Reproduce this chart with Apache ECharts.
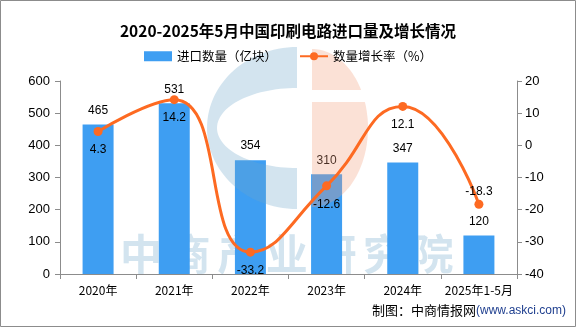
<!DOCTYPE html>
<html><head><meta charset="utf-8">
<script src="https://cdn.jsdelivr.net/npm/echarts@6/dist/echarts.min.js"></script>
<style>html,body{margin:0;padding:0;background:#fff}#c{width:576px;height:327px}</style>
</head><body><div id="c"></div>
<script>
const categories = ['2020年','2021年','2022年','2023年','2024年','2025年1-5月'];
const importVolume = [465, 531, 354, 310, 347, 120];
const growthRate = [4.3, 14.2, -33.2, -12.6, 12.1, -18.3];
const leftTicks = {min: 0, max: 600, interval: 100};
const rightTicks = {min: -40, max: 20, interval: 10};
const titleText = '2020-2025年5月中国印刷电路进口量及增长情况';
const barName = '进口数量（亿块）';
const lineName = '数量增长率（%）';
const watermark = '中商产业研究院';

const chart = echarts.init(document.getElementById('c'), null, {renderer: 'canvas'});
const axisColor = '#8c8c8c';
const cjk = 'Noto Sans CJK SC';

// decorative logo outline (background watermark, not data)
function arcPts(cx, cy, rx, ry, t0, t1, dir, n) {
  const pts = [];
  for (let k = 0; k <= n; k++) {
    const t = t0 + (t1 - t0) * k / n;
    pts.push([cx + dir * rx * Math.cos(t), cy + ry * Math.sin(t)]);
  }
  return pts;
}
const blueC = arcPts(297, 128, 90, 81, -Math.PI/2, Math.PI/2, -1, 60)
  .concat(arcPts(297, 128, 80, 40, Math.PI/2, -Math.PI/2, -1, 60));
const tTop = Math.asin(-38/79), tBot = Math.asin(-26/79);
const salTop = arcPts(312, 128, 56, 79, -Math.PI/2, tTop, 1, 30).concat([[312, 90]]);
const salBot = [[312, 102]].concat(arcPts(312, 128, 56, 79, tBot, Math.PI/2, 1, 50));

const wmChars = watermark.split('').map((ch, i) => ({
  type: 'text', z: 0, silent: true,
  x: 141 + i * 48.6, y: 254,
  style: {text: ch, font: 'bold 42px "Noto Sans CJK SC"', fill: '#d3e4ef', align: 'center', verticalAlign: 'middle'}
}));

const lineData = growthRate.map((v, i) => ({
  value: v,
  label: (i === growthRate.length - 1) ? {position: 'top', distance: 2} : {position: 'bottom', distance: 8}
}));

chart.setOption({
  animation: false,
  backgroundColor: '#fff',
  title: {
    text: titleText, left: 'center', top: 18,
    textStyle: {fontFamily: cjk, fontWeight: 'bold', fontSize: 15.5, color: '#000'}
  },
  legend: {
    top: 45, left: 'center', itemWidth: 28, itemHeight: 10, itemGap: 22,
    textStyle: {fontFamily: cjk, fontSize: 12.5, color: '#000'},
    data: [{name: barName, icon: 'rect'}, {name: lineName}]
  },
  grid: {left: 60, right: 59, top: 81, bottom: 53},
  xAxis: {
    type: 'category', data: categories, boundaryGap: true,
    axisLine: {lineStyle: {color: axisColor}},
    axisTick: {show: true, length: 5, lineStyle: {color: axisColor}},
    axisLabel: {fontFamily: cjk, fontSize: 12, color: '#000', margin: 10, interval: 0}
  },
  yAxis: [
    {type: 'value', min: leftTicks.min, max: leftTicks.max, interval: leftTicks.interval,
     axisLine: {show: true, lineStyle: {color: axisColor}},
     axisTick: {show: true, length: 5, lineStyle: {color: axisColor}},
     splitLine: {show: false},
     axisLabel: {fontFamily: 'Liberation Sans', fontSize: 13, color: '#000', margin: 10}},
    {type: 'value', min: rightTicks.min, max: rightTicks.max, interval: rightTicks.interval,
     axisLine: {show: true, lineStyle: {color: axisColor}},
     axisTick: {show: true, length: 5, lineStyle: {color: axisColor}},
     splitLine: {show: false},
     axisLabel: {fontFamily: 'Liberation Sans', fontSize: 13, color: '#000', margin: 8}}
  ],
  series: [
    {name: barName, type: 'bar', data: importVolume, barWidth: 31, z: 2,
     itemStyle: {color: '#3e9ef2'},
     label: {show: true, position: 'top', distance: 8, fontFamily: 'Liberation Sans', fontSize: 12, color: '#000'}},
    {name: lineName, type: 'line', yAxisIndex: 1, data: lineData, smooth: 0.5, z: 6,
     symbol: 'circle', symbolSize: 9,
     lineStyle: {color: '#fd6a22', width: 3},
     itemStyle: {color: '#fd6a22'},
     label: {show: true, fontFamily: 'Liberation Sans', fontSize: 12, color: '#000',
             formatter: p => p.value.toFixed(1)}}
  ],
  graphic: [
    {type: 'rect', z: 10, silent: true, shape: {x: 0.5, y: 0.5, width: 575, height: 326},
     style: {fill: 'none', stroke: '#8c8c8c', lineWidth: 1}},
    ...wmChars,
    {type: 'polygon', z: 4, silent: true, shape: {points: blueC}, style: {fill: 'rgba(108,165,202,0.3)'}},
    {type: 'polygon', z: 4, silent: true, shape: {points: salTop}, style: {fill: 'rgba(242,155,118,0.3)'}},
    {type: 'polygon', z: 4, silent: true, shape: {points: salBot}, style: {fill: 'rgba(242,155,118,0.3)'}},
    {type: 'text', z: 10, silent: true, right: 10, top: 304,
     style: {text: '{a|制图：中商情报网}{b|(www.askci.com)}',
       rich: {a: {fontFamily: cjk, fontSize: 13, fill: '#000'},
              b: {fontFamily: 'Liberation Sans', fontSize: 12, fill: '#1f3f8f'}}}}
  ]
});
</script></body></html>
